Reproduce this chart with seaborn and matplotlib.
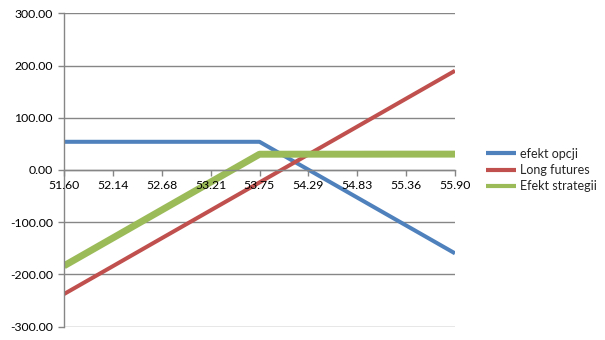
import matplotlib
matplotlib.use("Agg")
import matplotlib.pyplot as plt
import seaborn as sns
import pandas as pd

categories = ["51.60", "52.14", "52.68", "53.21", "53.75", "54.29", "54.83", "55.36", "55.90"]
efekt_opcji = [54, 54, 54, 54, 54, 0.6, -52.8, -106.2, -159.6]
long_futures = [-237.5, -184.1, -130.6, -77.2, -23.8, 29.7, 83.1, 136.6, 190.0]
efekt_strategii = [-183.5, -130.1, -76.6, -23.2, 30.2, 30.3, 30.3, 30.4, 30.4]
series_names = ["efekt opcji", "Long futures", "Efekt strategii"]
y_ticks = [-300, -200, -100, 0, 100, 200, 300]

sns.set_theme(style="white")
plt.rcParams["font.family"] = ["Lato", "DejaVu Sans"]

rows = []
for name, vals in zip(series_names, [efekt_opcji, long_futures, efekt_strategii]):
    for i, v in enumerate(vals):
        rows.append({"pos": i, "value": v, "series": name})
df = pd.DataFrame(rows)

colors = {"efekt opcji": "#4F81BD", "Long futures": "#C0504D", "Efekt strategii": "#9BBB59"}
widths = {"efekt opcji": 2.9, "Long futures": 2.9, "Efekt strategii": 5.0}

fig = plt.figure(figsize=(6.05, 3.4), dpi=100)
ax = fig.add_axes([64 / 605, 1 - 326.7 / 340, (455 - 64) / 605, (326.7 - 13.3) / 340])

for t in y_ticks:
    ax.axhline(t, color="#868686", linewidth=1.0, zorder=1)

for name in series_names:
    sub = df[df["series"] == name]
    sns.lineplot(data=sub, x="pos", y="value", color=colors[name], linewidth=widths[name],
                 ax=ax, label=name, zorder=2, sort=False, solid_capstyle="butt")

ax.set_xlim(0, len(categories) - 1)
ax.set_ylim(-300, 300)
ax.set_yticks(y_ticks)
ax.set_yticklabels([f"{t:.2f}" for t in y_ticks])
ax.set_xticks(range(len(categories)))
ax.set_xticklabels(categories)
ax.set_xlabel("")
ax.set_ylabel("")
ax.set_axisbelow(False)
ax.grid(False)

for s in ["top", "right"]:
    ax.spines[s].set_visible(False)
ax.spines["left"].set_color("#868686")
ax.spines["bottom"].set_color("#868686")
ax.spines["bottom"].set_position(("data", 0))
ax.spines["left"].set_linewidth(1.0)
ax.spines["bottom"].set_linewidth(1.0)

ax.tick_params(axis="y", which="major", direction="out", length=4.5, width=1, color="#868686",
               pad=3.5, labelsize=8.8, labelcolor="#000000", left=True)
ax.tick_params(axis="x", which="major", direction="out", length=4.5, width=1, color="#868686",
               pad=3, labelsize=8.8, labelcolor="#000000", bottom=True)

leg = ax.legend(loc="center left", bbox_to_anchor=(486 / 605, 170 / 340),
                bbox_transform=fig.transFigure, frameon=False, fontsize=9,
                handlelength=2.4, handletextpad=0.3, labelspacing=0.35, borderpad=0,
                borderaxespad=0)
for line in leg.get_lines():
    line.set_linewidth(3.0)

fig.savefig("out.png", dpi=100)
